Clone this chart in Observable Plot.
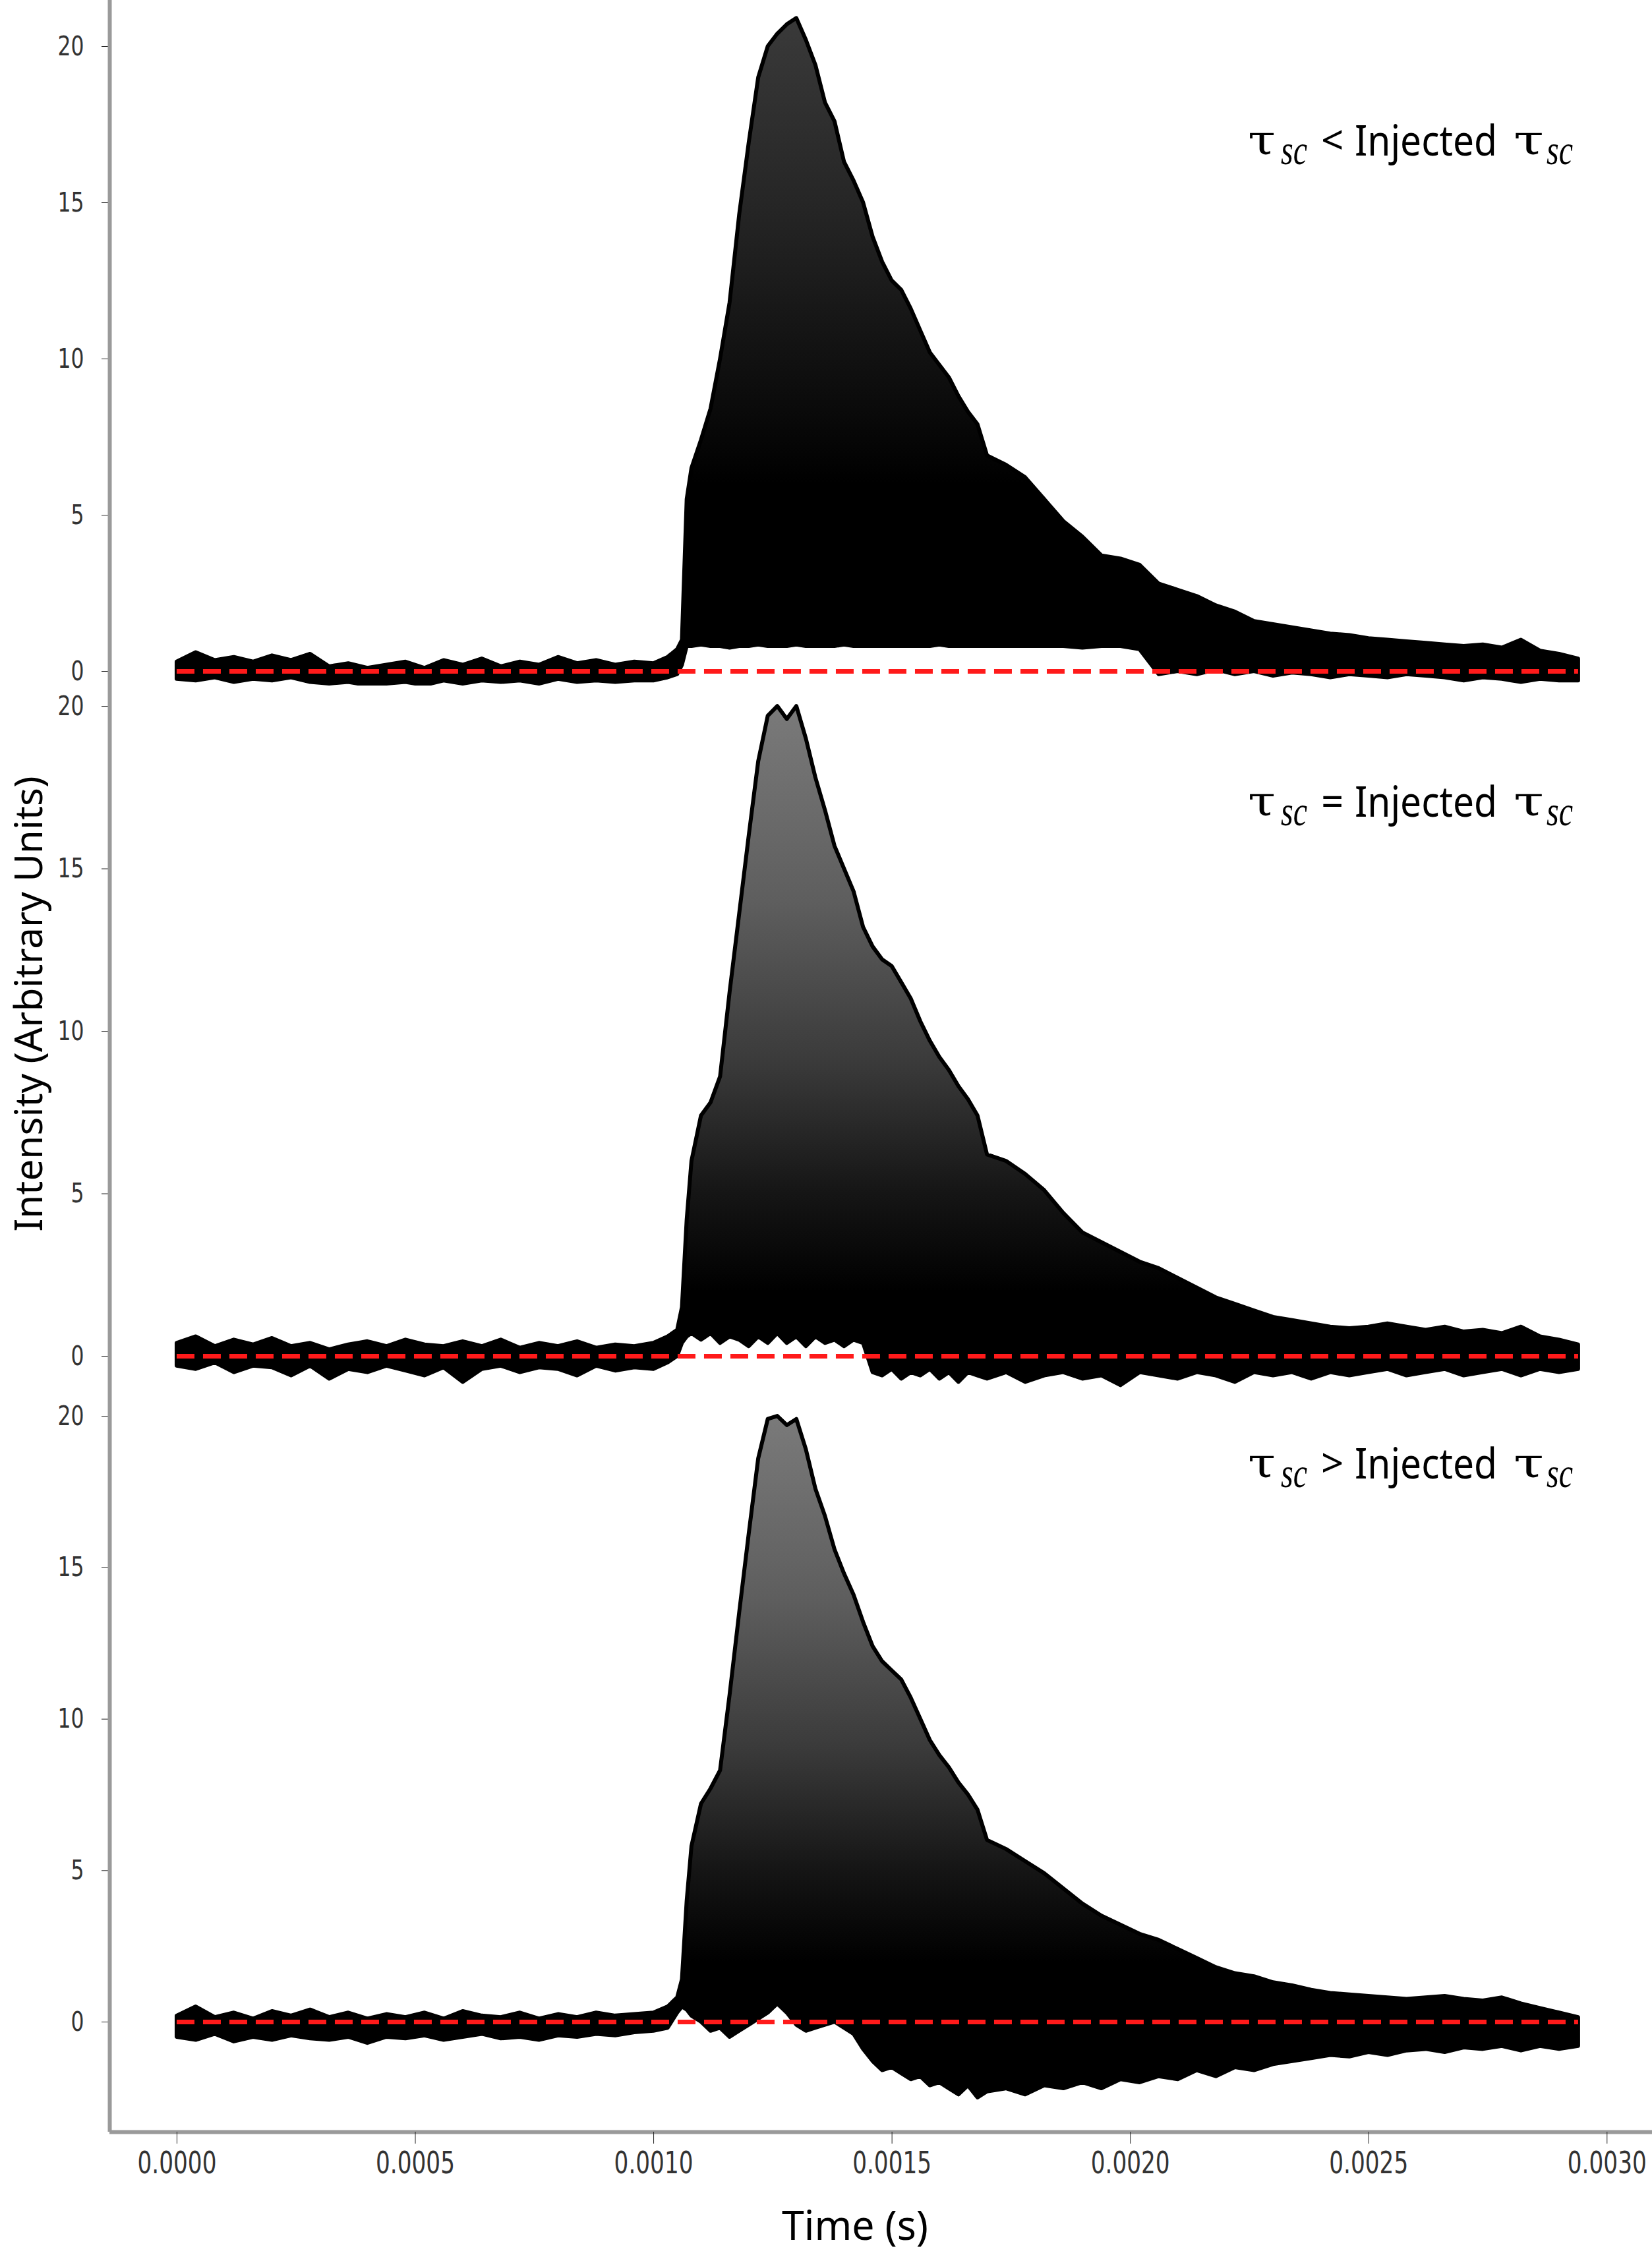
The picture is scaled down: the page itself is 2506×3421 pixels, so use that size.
<!DOCTYPE html>
<html><head><meta charset="utf-8">
<script src="https://cdn.jsdelivr.net/npm/d3@7"></script>
<script src="https://cdn.jsdelivr.net/npm/@observablehq/plot@0.6"></script>
<style>
html,body{margin:0;padding:0;background:#fff;}
#fig{position:relative;width:2506px;height:3421px;overflow:hidden;background:#fff;}
#fig svg{position:absolute;left:0;}
</style></head><body><div id="fig"></div>
<script>
// time samples (s)
const time = [0,0.00004,0.00008,0.00012,0.00016,0.0002,0.00024,0.00028,0.00032,0.00036,0.0004,0.00044,0.00048,0.00052,0.00056,0.0006,0.00064,0.00068,0.00072,0.00076,0.0008,0.00084,0.00088,0.00092,0.00096,0.001,0.00103,
0.00105,0.00106,0.00107,0.00108,0.0011,0.00112,0.00114,0.00116,0.00118,0.0012,0.00122,0.00124,0.00126,0.00128,0.0013,0.00132,0.00134,0.00136,0.00138,0.0014,0.00142,0.00144,0.00146,0.00148,0.0015,0.00152,0.00154,0.00156,0.00158,0.0016,0.00162,0.00164,0.00166,0.00168,0.0017,
0.00174,0.00178,0.00182,0.00186,0.0019,0.00194,0.00198,0.00202,0.00206,0.0021,0.00214,0.00218,0.00222,0.00226,0.0023,0.00234,0.00238,0.00242,0.00246,0.0025,0.00254,0.00258,0.00262,0.00266,0.0027,0.00274,0.00278,0.00282,0.00286,0.0029,0.00294];

// panel 1: tau_sc < injected
const p1Upper = [0.3,0.6,0.35,0.45,0.3,0.5,0.35,0.55,0.15,0.25,0.1,0.2,0.3,0.1,0.35,0.2,0.4,0.15,0.3,0.2,0.45,0.25,0.35,0.2,0.3,0.25,0.45,
0.7,1.0,5.5,6.5,7.4,8.4,10.0,11.8,14.6,16.9,19.0,20.0,20.4,20.7,20.9,20.2,19.4,18.2,17.6,16.3,15.7,15.0,13.9,13.1,12.5,12.2,11.6,10.9,10.2,9.8,9.4,8.8,8.3,7.9,6.9,
6.6,6.2,5.5,4.8,4.3,3.7,3.6,3.4,2.8,2.6,2.4,2.1,1.9,1.6,1.5,1.4,1.3,1.2,1.15,1.05,1.0,0.95,0.9,0.85,0.8,0.85,0.75,1.0,0.65,0.55,0.4];
const p1Lower = [-0.25,-0.3,-0.2,-0.35,-0.25,-0.3,-0.2,-0.35,-0.4,-0.35,-0.45,-0.4,-0.35,-0.45,-0.3,-0.4,-0.3,-0.35,-0.3,-0.4,-0.25,-0.35,-0.3,-0.35,-0.3,-0.3,-0.2,
-0.1,0.2,0.8,0.8,0.85,0.8,0.8,0.75,0.8,0.8,0.85,0.8,0.8,0.8,0.85,0.8,0.8,0.8,0.8,0.85,0.8,0.8,0.8,0.8,0.8,0.8,0.8,0.8,0.8,0.85,0.8,0.8,0.8,0.8,0.8,
0.8,0.8,0.8,0.8,0.75,0.8,0.8,0.7,-0.1,0.0,-0.1,0.05,-0.1,0.0,-0.15,-0.05,-0.1,-0.2,-0.1,-0.15,-0.2,-0.1,-0.15,-0.2,-0.3,-0.2,-0.25,-0.35,-0.25,-0.3,-0.3];

// panel 2: tau_sc = injected
const p2Upper = [0.4,0.6,0.3,0.5,0.35,0.55,0.3,0.4,0.2,0.35,0.45,0.3,0.5,0.35,0.3,0.45,0.3,0.5,0.25,0.4,0.3,0.45,0.25,0.35,0.3,0.4,0.6,
0.8,1.5,4.2,6.0,7.4,7.8,8.6,11.2,13.6,16.0,18.3,19.7,20.0,19.6,20.0,19.0,17.8,16.8,15.7,15.0,14.3,13.2,12.6,12.2,12.0,11.5,11.0,10.3,9.7,9.2,8.8,8.3,7.9,7.4,6.2,
6.0,5.6,5.1,4.4,3.8,3.5,3.2,2.9,2.7,2.4,2.1,1.8,1.6,1.4,1.2,1.1,1.0,0.9,0.85,0.9,1.0,0.9,0.8,0.9,0.75,0.8,0.7,0.9,0.6,0.5,0.35];
const p2Lower = [-0.3,-0.4,-0.2,-0.5,-0.3,-0.35,-0.6,-0.3,-0.7,-0.4,-0.5,-0.3,-0.45,-0.6,-0.35,-0.8,-0.4,-0.3,-0.5,-0.35,-0.4,-0.6,-0.3,-0.45,-0.35,-0.4,-0.2,
0.0,0.4,0.6,0.7,0.5,0.7,0.4,0.6,0.5,0.3,0.6,0.4,0.7,0.4,0.6,0.3,0.6,0.4,0.5,0.3,0.5,0.4,-0.5,-0.6,-0.4,-0.7,-0.5,-0.6,-0.4,-0.7,-0.5,-0.8,-0.5,-0.6,-0.7,
-0.5,-0.8,-0.6,-0.5,-0.7,-0.6,-0.9,-0.5,-0.6,-0.7,-0.5,-0.6,-0.8,-0.5,-0.6,-0.5,-0.7,-0.5,-0.6,-0.5,-0.4,-0.6,-0.5,-0.4,-0.6,-0.5,-0.4,-0.6,-0.4,-0.5,-0.4];

// panel 3: tau_sc > injected
const p3Upper = [0.2,0.5,0.15,0.3,0.1,0.35,0.2,0.4,0.15,0.3,0.1,0.25,0.15,0.3,0.1,0.35,0.2,0.15,0.3,0.1,0.25,0.15,0.3,0.2,0.25,0.3,0.5,
0.8,1.4,4.0,5.8,7.2,7.7,8.3,10.8,13.5,16.1,18.6,19.9,20.0,19.7,19.9,18.9,17.6,16.7,15.6,14.8,14.1,13.2,12.4,11.9,11.6,11.3,10.7,10.0,9.3,8.8,8.4,7.9,7.5,7.0,6.0,
5.7,5.3,4.9,4.4,3.9,3.5,3.2,2.9,2.7,2.4,2.1,1.8,1.6,1.5,1.3,1.2,1.05,0.95,0.9,0.85,0.8,0.75,0.8,0.85,0.75,0.7,0.8,0.6,0.45,0.3,0.15];
const p3Lower = [-0.5,-0.6,-0.4,-0.65,-0.5,-0.6,-0.45,-0.55,-0.6,-0.5,-0.7,-0.5,-0.55,-0.45,-0.6,-0.5,-0.4,-0.55,-0.5,-0.6,-0.45,-0.5,-0.4,-0.45,-0.35,-0.3,-0.2,
0.3,0.5,0.4,0.2,0.0,-0.3,-0.2,-0.5,-0.3,-0.1,0.1,0.3,0.6,0.3,-0.1,-0.3,-0.2,-0.1,0.0,-0.2,-0.4,-0.9,-1.3,-1.6,-1.5,-1.7,-1.9,-1.8,-2.1,-2.0,-2.2,-2.4,-2.1,-2.5,-2.3,
-2.2,-2.4,-2.1,-2.2,-2.0,-2.2,-1.9,-2.0,-1.8,-1.9,-1.6,-1.8,-1.5,-1.6,-1.4,-1.3,-1.2,-1.1,-1.15,-1.0,-1.1,-0.95,-0.9,-1.0,-0.85,-0.9,-0.8,-0.95,-0.8,-0.9,-0.8];

const yTicks = [0, 5, 10, 15, 20];
const xTicks = [0, 0.0005, 0.001, 0.0015, 0.002, 0.0025, 0.003];
const relations = ["<", "=", ">"];
const yLabel = "Intensity (Arbitrary Units)";
const xLabel = "Time (s)";

const W = 2506, H = 3421;
const xDomain = [-0.000141, 0.003095];
const fig = document.getElementById("fig");

function fitText(svg, sel, perChar) {
  svg.querySelectorAll(`g[aria-label="${sel}"] text`).forEach(t => {
    t.setAttribute("textLength", perChar * t.textContent.length);
    t.setAttribute("lengthAdjust", "spacingAndGlyphs");
  });
}

// shading of the dense bundle of traces: [value, grey]
function panel({id, upper, lower, top, height, yDomain, shade, marginBottom = 0, showX = false}) {
  const rows = time.map((t, i) => ({t, lo: lower[i], hi: upper[i]}));
  const marks = [
    Plot.areaY(rows, {x: "t", y1: "lo", y2: "hi", fill: `url(#${id})`, stroke: "black", strokeWidth: 6, strokeLinejoin: "round", clip: true}),
    Plot.ruleY([0], {x1: d3.min(time), x2: d3.max(time), stroke: "#ff1a1a", strokeWidth: 7, strokeDasharray: "27,13"}),
    Plot.axisY(yTicks, {tickSize: 12, tickPadding: 27, fontSize: 41, label: null, stroke: "#222", fill: "#333"}),
    Plot.ruleX([xDomain[0]], {stroke: "#9a9a9a", strokeWidth: 6})
  ];
  if (showX) {
    marks.push(
      Plot.ruleY([yDomain[0]], {stroke: "#9a9a9a", strokeWidth: 6}),
      Plot.axisX(xTicks, {tickFormat: d3.format(".4f"), tickSize: 18, tickPadding: 12, fontSize: 46, label: null, stroke: "#222", fill: "#333"})
    );
  }
  const svg = Plot.plot({
    width: W, height,
    marginLeft: 166, marginRight: 0, marginTop: 0, marginBottom,
    x: {domain: xDomain, label: null, axis: showX ? undefined : null},
    y: {domain: yDomain, label: null},
    style: {fontFamily: "DejaVu Sans", background: "transparent", overflow: "visible"},
    marks
  });
  // vertical gradient for the bundle shading (styling)
  const ys = svg.scale("y");
  const py = v => ys.range[0] + (v - ys.domain[0]) / (ys.domain[1] - ys.domain[0]) * (ys.range[1] - ys.range[0]);
  const defs = d3.select(svg).insert("defs", ":first-child");
  const lg = defs.append("linearGradient").attr("id", id).attr("gradientUnits", "userSpaceOnUse")
    .attr("x1", 0).attr("x2", 0).attr("y1", py(shade[0][0])).attr("y2", py(shade[shade.length - 1][0]));
  const span = shade[shade.length - 1][0] - shade[0][0];
  shade.forEach(([v, c]) => lg.append("stop").attr("offset", (v - shade[0][0]) / span).attr("stop-color", c));
  fitText(svg, "y-axis tick label", 20);
  if (showX) fitText(svg, "x-axis tick label", 20);
  svg.style.top = top + "px";
  fig.appendChild(svg);
}

panel({id: "g1", upper: p1Upper, lower: p1Lower, top: 0, height: 1040, yDomain: [-0.464, 21.477],
  shade: [[21, "#3a3a3a"], [15, "#262626"], [10, "#111"], [6, "#000"]]});
panel({id: "g2", upper: p2Upper, lower: p2Lower, top: 1040, height: 1070, yDomain: [-1.075, 20.63],
  shade: [[20, "#7a7a7a"], [14, "#5e5e5e"], [9, "#3a3a3a"], [5, "#151515"], [2, "#000"]]});
panel({id: "g3", upper: p3Upper, lower: p3Lower, top: 2110, height: 1311, marginBottom: 187, yDomain: [-3.634, 20.83], showX: true,
  shade: [[20, "#7a7a7a"], [14, "#5e5e5e"], [9, "#3a3a3a"], [5, "#151515"], [2, "#000"]]});

// overlay texts
const ov = d3.create("svg").attr("width", W).attr("height", H).style("top", "0px").style("pointer-events", "none");
const sans = "Noto Sans, Open Sans, sans-serif";
[236, 1239, 2243].forEach((b, i) => {
  const g = ov.append("g").attr("fill", "black");
  g.append("text").attr("x", 1893).attr("y", b - 2).attr("font-family", "DejaVu Serif").attr("font-size", 62).attr("textLength", 42).attr("lengthAdjust", "spacingAndGlyphs").text("τ");
  g.append("text").attr("x", 1943).attr("y", b + 13).attr("font-family", "Liberation Serif").attr("font-style", "italic").attr("font-size", 64).attr("textLength", 40).attr("lengthAdjust", "spacingAndGlyphs").text("sc");
  g.append("text").attr("x", 2004).attr("y", b - 2).attr("font-family", sans).attr("font-size", 60).text(relations[i]);
  g.append("text").attr("x", 2055).attr("y", b).attr("font-family", sans).attr("font-size", 63).attr("textLength", 216).attr("lengthAdjust", "spacingAndGlyphs").text("Injected");
  g.append("text").attr("x", 2296).attr("y", b - 2).attr("font-family", "DejaVu Serif").attr("font-size", 62).attr("textLength", 46).attr("lengthAdjust", "spacingAndGlyphs").text("τ");
  g.append("text").attr("x", 2346).attr("y", b + 13).attr("font-family", "Liberation Serif").attr("font-style", "italic").attr("font-size", 64).attr("textLength", 40).attr("lengthAdjust", "spacingAndGlyphs").text("sc");
});
ov.append("text").attr("transform", "translate(64,1523) rotate(-90)").attr("text-anchor", "middle")
  .attr("font-family", sans).attr("font-size", 58).attr("textLength", 691).attr("lengthAdjust", "spacingAndGlyphs").text(yLabel);
ov.append("text").attr("x", 1297).attr("y", 3398).attr("text-anchor", "middle")
  .attr("font-family", sans).attr("font-size", 62).attr("textLength", 222).attr("lengthAdjust", "spacingAndGlyphs").text(xLabel);
fig.appendChild(ov.node());
</script></body></html>
